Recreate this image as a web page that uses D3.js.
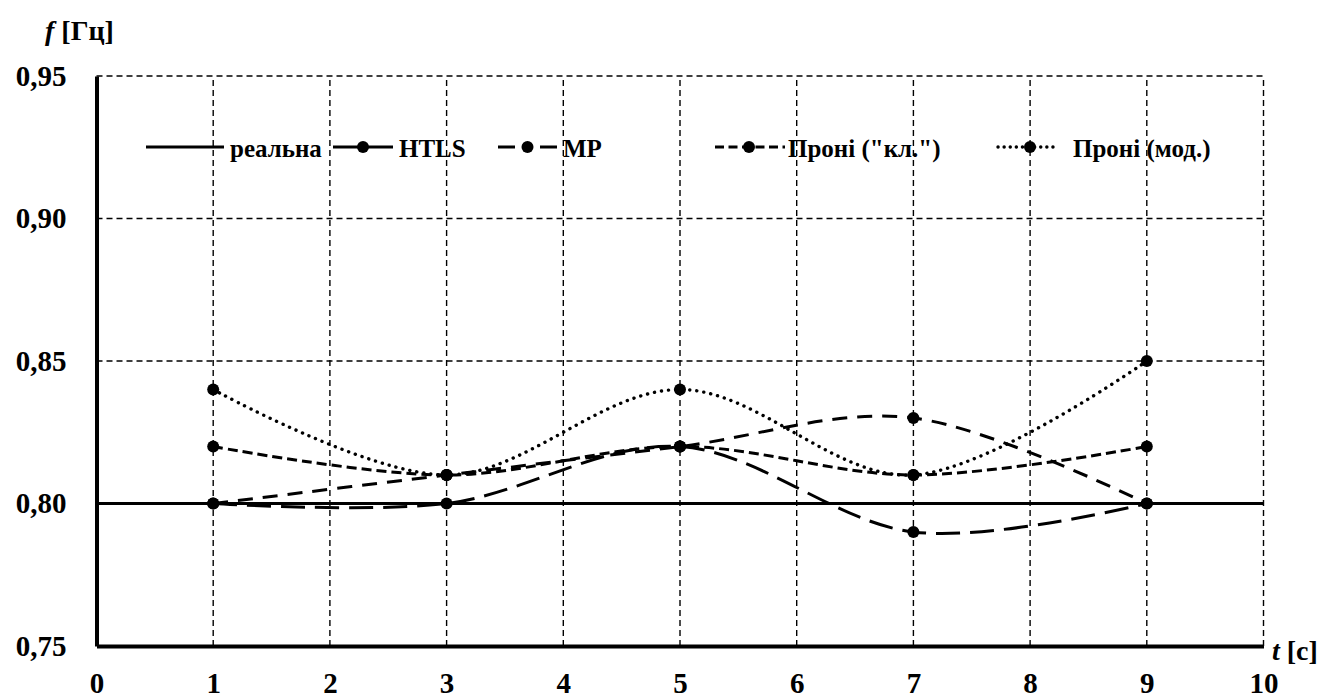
<!DOCTYPE html>
<html>
<head>
<meta charset="utf-8">
<script src="https://cdn.jsdelivr.net/npm/d3@7"></script>
<style>
  html, body { margin: 0; padding: 0; background: #fff; }
  svg { display: block; }
  svg text { font-family: "Liberation Serif", "Times New Roman", serif; font-weight: bold; fill: #000; }
</style>
</head>
<body>
<svg id="chart" width="1335" height="700"></svg>
<script>
// Frequency estimates over time
const tTicks = [0, 1, 2, 3, 4, 5, 6, 7, 8, 9, 10];
const fTicks = [0.75, 0.80, 0.85, 0.90, 0.95];

const tReal = [0, 10];
const fReal = [0.80, 0.80];

const tSamples = [1, 3, 5, 7, 9];
const fHTLS   = [0.80, 0.80, 0.82, 0.79, 0.80];
const fMP     = [0.80, 0.81, 0.82, 0.83, 0.80];
const fPronyC = [0.82, 0.81, 0.82, 0.81, 0.82];
const fPronyM = [0.84, 0.81, 0.84, 0.81, 0.85];

const seriesNames = ["реальна", "HTLS", "MP", "Проні (\"кл.\")", "Проні (мод.)"];

const svg = d3.select("#chart");
const W = 1335, H = 700;
const m = { left: 96.5, right: W - 1263.5, top: 76, bottom: H - 646 };

const x = d3.scaleLinear().domain([0, 10]).range([m.left, W - m.right]);
const y = d3.scaleLinear().domain([0.75, 0.95]).range([H - m.bottom, m.top]);

const fmt = v => d3.format(".2f")(v).replace(".", ",");

// dashed grid, including top and right frame
const grid = svg.append("g").attr("stroke", "#000").attr("stroke-width", 1.4)
  .attr("stroke-dasharray", "6,4").attr("fill", "none");
grid.selectAll("line.v").data(tTicks.filter(d => d > 0)).join("line")
  .attr("x1", d => x(d)).attr("x2", d => x(d))
  .attr("y1", y(0.75)).attr("y2", y(0.95));
grid.selectAll("line.h").data(fTicks.filter(d => d > 0.75)).join("line")
  .attr("x1", x(0)).attr("x2", x(10))
  .attr("y1", d => y(d)).attr("y2", d => y(d));

// series styles
const styles = [
  { dash: null, marker: false, legendDash: null },
  { dash: "24,10", marker: true, legendDash: null },
  { dash: "15,10", marker: true, legendDash: "17,25" },
  { dash: "10,5", marker: true, legendDash: "9,4.5" },
  { dash: "0.1,7", marker: true, cap: "round", width: 3.4, legendDash: "0.1,6" }
];
const seriesData = [
  d3.zip(tReal, fReal),
  d3.zip(tSamples, fHTLS),
  d3.zip(tSamples, fMP),
  d3.zip(tSamples, fPronyC),
  d3.zip(tSamples, fPronyM)
];

const straight = d3.line().x(d => x(d[0])).y(d => y(d[1]));
const smooth = d3.line().x(d => x(d[0])).y(d => y(d[1])).curve(d3.curveCatmullRom.alpha(0));

seriesData.forEach((pts, i) => {
  const s = styles[i];
  svg.append("path").datum(pts)
    .attr("fill", "none").attr("stroke", "#000")
    .attr("stroke-width", s.width || 3)
    .attr("stroke-dasharray", s.dash)
    .attr("stroke-linecap", s.cap || "butt")
    .attr("d", i === 0 ? straight(pts) : smooth(pts));
});
seriesData.forEach((pts, i) => {
  if (!styles[i].marker) return;
  svg.append("g").selectAll("circle").data(pts).join("circle")
    .attr("cx", d => x(d[0])).attr("cy", d => y(d[1])).attr("r", 6).attr("fill", "#000");
});

// axes (solid left and bottom)
const xAxis = svg.append("g").attr("transform", `translate(0,${y(0.75)})`)
  .call(d3.axisBottom(x).tickValues(tTicks).tickSize(0).tickPadding(26).tickFormat(d3.format("d")));
const yAxis = svg.append("g").attr("transform", `translate(${x(0)},0)`)
  .call(d3.axisLeft(y).tickValues(fTicks).tickSize(0).tickPadding(30).tickFormat(fmt));
[xAxis, yAxis].forEach(a => {
  a.attr("font-family", null).attr("font-size", null);
  a.select(".domain").attr("stroke", "#000").attr("stroke-width", 4);
  a.selectAll("text").style("font-size", "29px");
});

// legend
const legendItems = [
  { x0: 146, x1: 224, mx: null, tx: 230 },
  { x0: 333, x1: 393, mx: 363, tx: 399 },
  { x0: 498, x1: 557, mx: 527.5, tx: 563 },
  { x0: 715, x1: 785, mx: 749, tx: 788 },
  { x0: 998, x1: 1056, mx: 1030, tx: 1073 }
];
const ly = 147;
const lg = svg.append("g");
legendItems.forEach((it, i) => {
  const s = styles[i];
  lg.append("line").attr("x1", it.x0).attr("x2", it.x1)
    .attr("y1", ly).attr("y2", ly)
    .attr("stroke", "#000").attr("stroke-width", s.width || 3)
    .attr("stroke-dasharray", s.legendDash)
    .attr("stroke-linecap", s.cap || "butt");
  if (s.marker) {
    lg.append("circle").attr("cx", it.mx).attr("cy", ly).attr("r", 6).attr("fill", "#000");
  }
  lg.append("text").attr("x", it.tx).attr("y", ly + 10)
    .style("font-size", "25px").text(seriesNames[i]);
});

// axis titles
const fTitle = svg.append("text").attr("x", 45).attr("y", 40).style("font-size", "28px");
fTitle.append("tspan").attr("font-style", "italic").text("f");
fTitle.append("tspan").text(" [Гц]");
const tTitle = svg.append("text").attr("x", 1272).attr("y", 660).style("font-size", "28px");
tTitle.append("tspan").attr("font-style", "italic").text("t");
tTitle.append("tspan").text(" [с]");
</script>
</body>
</html>
